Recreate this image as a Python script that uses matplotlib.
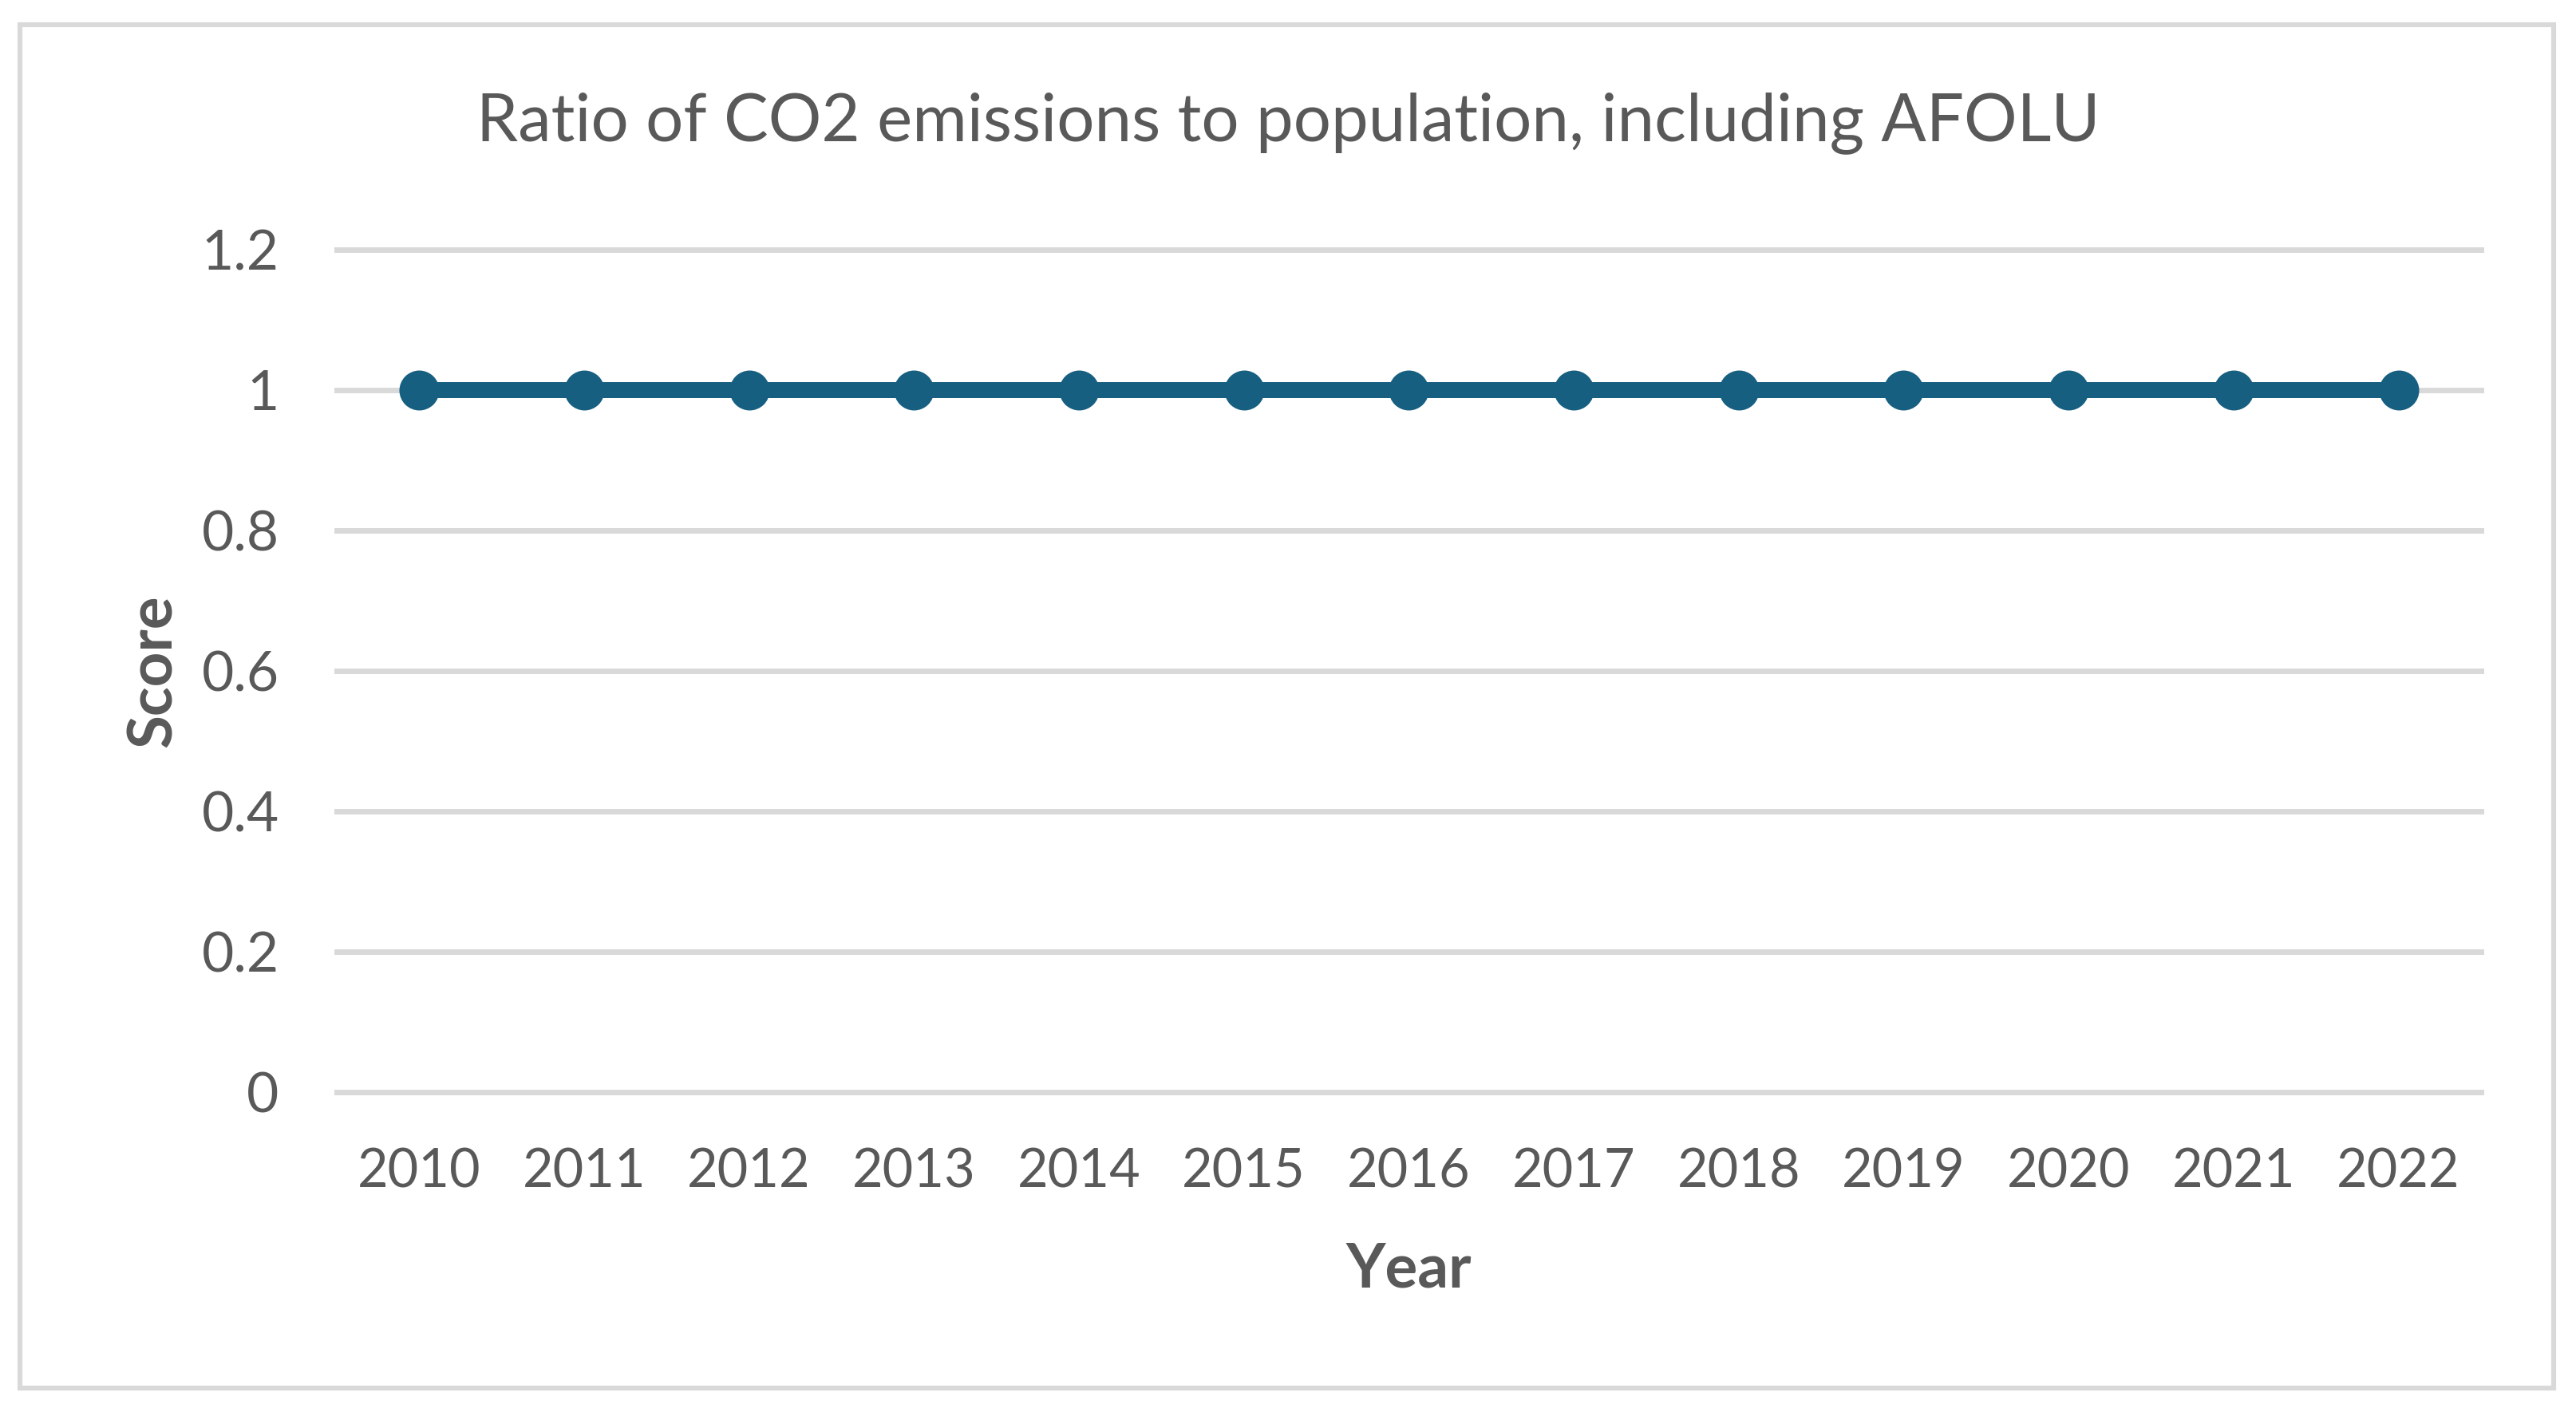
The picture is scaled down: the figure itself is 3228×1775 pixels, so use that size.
import matplotlib
matplotlib.use("Agg")
import matplotlib.pyplot as plt
from matplotlib.patches import Rectangle

# Data
years = ['2010', '2011', '2012', '2013', '2014', '2015', '2016',
         '2017', '2018', '2019', '2020', '2021', '2022']
scores = [1, 1, 1, 1, 1, 1, 1, 1, 1, 1, 1, 1, 1]
yticks = [0, 0.2, 0.4, 0.6, 0.8, 1, 1.2]
ytick_labels = ['0', '0.2', '0.4', '0.6', '0.8', '1', '1.2']

text_color = '#595959'
grid_color = '#d9d9d9'
line_color = '#165f80'

plt.rcParams['font.family'] = ['Lato', 'DejaVu Sans']

fig = plt.figure(figsize=(16.14, 8.875), dpi=200)
ax = fig.add_axes([0.1307, 0.2287, 0.8324, 0.595])

x = list(range(len(years)))
ax.plot(x, scores, color=line_color, linewidth=7.2, marker='o',
        markersize=18, markeredgewidth=0, zorder=3)

ax.set_xlim(-0.5, len(years) - 0.5)
ax.set_ylim(0, 1.2)
ax.set_yticks(yticks)
ax.set_yticklabels(ytick_labels)
ax.set_xticks(x)
ax.set_xticklabels(years)
ax.tick_params(axis='y', length=0, labelsize=25, colors=text_color, pad=26)
ax.tick_params(axis='x', length=0, labelsize=24, colors=text_color, pad=25)

# Horizontal gridlines only
ax.grid(axis='y', color=grid_color, linewidth=2.5, clip_on=False)
ax.set_axisbelow(True)
for s in ax.spines.values():
    s.set_visible(False)

ax.set_xlabel('Year', fontsize=27.5, fontweight='bold', color=text_color, labelpad=20)
ax.set_ylabel('Score', fontsize=27.5, fontweight='bold', color=text_color, labelpad=9)

fig.text(0.5, 0.913, 'Ratio of CO2 emissions to population, including AFOLU',
         ha='center', va='center', fontsize=30, color=text_color)

# Chart border
fig.patches.append(Rectangle((25 / 3228, 1 - 1740 / 1775), (3200 - 25) / 3228,
                             (1740 - 31) / 1775, transform=fig.transFigure,
                             fill=False, edgecolor=grid_color, linewidth=2.2))

fig.savefig('out.png', dpi=200, facecolor='white')
